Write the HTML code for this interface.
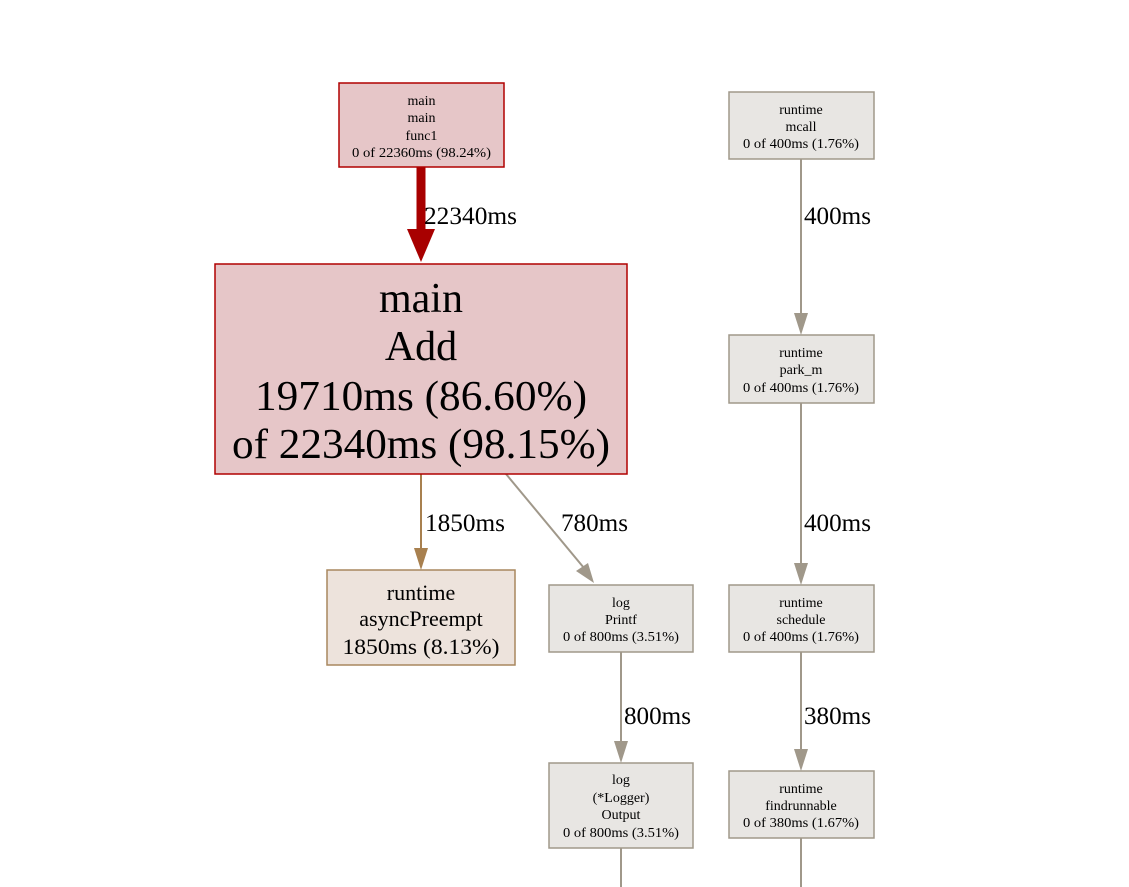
<!DOCTYPE html>
<html><head><meta charset="utf-8"><style>
html,body{margin:0;padding:0;background:#fff;}
svg{display:block;font-family:"Liberation Serif",serif;}
</style></head><body>
<svg width="1129" height="887" viewBox="0 0 1129 887" xmlns="http://www.w3.org/2000/svg">
<!-- edges -->
<line x1="421" y1="167" x2="421" y2="230" stroke="#a80000" stroke-width="9"/>
<polygon points="407,229 435,229 421,262" fill="#a80000"/>
<text x="424" y="224" font-size="25" textLength="93" lengthAdjust="spacingAndGlyphs">22340ms</text>

<line x1="421" y1="474" x2="421" y2="550" stroke="#a8804f" stroke-width="2"/>
<polygon points="414,548 428,548 421,570" fill="#a8804f"/>
<text x="425" y="531" font-size="25" textLength="80" lengthAdjust="spacingAndGlyphs">1850ms</text>

<line x1="506" y1="474" x2="584" y2="568" stroke="#a0988a" stroke-width="2"/>
<polygon points="576,571 588,563 594,583" fill="#a0988a"/>
<text x="561" y="531" font-size="25" textLength="67" lengthAdjust="spacingAndGlyphs">780ms</text>

<line x1="621" y1="652" x2="621" y2="743" stroke="#a0988a" stroke-width="2"/>
<polygon points="614,741 628,741 621,763" fill="#a0988a"/>
<text x="624" y="724" font-size="25" textLength="67" lengthAdjust="spacingAndGlyphs">800ms</text>
<line x1="621" y1="848" x2="621" y2="887" stroke="#a0988a" stroke-width="2"/>

<line x1="801" y1="159" x2="801" y2="315" stroke="#a0988a" stroke-width="2"/>
<polygon points="794,313 808,313 801,335" fill="#a0988a"/>
<text x="804" y="224" font-size="25" textLength="67" lengthAdjust="spacingAndGlyphs">400ms</text>

<line x1="801" y1="403" x2="801" y2="565" stroke="#a0988a" stroke-width="2"/>
<polygon points="794,563 808,563 801,585" fill="#a0988a"/>
<text x="804" y="531" font-size="25" textLength="67" lengthAdjust="spacingAndGlyphs">400ms</text>

<line x1="801" y1="652" x2="801" y2="751" stroke="#a0988a" stroke-width="2"/>
<polygon points="794,749 808,749 801,771" fill="#a0988a"/>
<text x="804" y="724" font-size="25" textLength="67" lengthAdjust="spacingAndGlyphs">380ms</text>
<line x1="801" y1="838" x2="801" y2="887" stroke="#a0988a" stroke-width="2"/>

<!-- nodes -->
<g text-anchor="middle">
<rect x="339" y="83" width="165" height="84" fill="#e6c6c8" stroke="#b00000" stroke-width="1.5"/>
<text x="421.5" y="105" font-size="14">main</text>
<text x="421.5" y="122" font-size="14">main</text>
<text x="421.5" y="140" font-size="14">func1</text>
<text x="421.5" y="157" font-size="14" textLength="139" lengthAdjust="spacingAndGlyphs">0 of 22360ms (98.24%)</text>

<rect x="215" y="264" width="412" height="210" fill="#e6c6c8" stroke="#b00000" stroke-width="1.5"/>
<text x="421" y="312" font-size="42">main</text>
<text x="421" y="360" font-size="42">Add</text>
<text x="421" y="410" font-size="42" textLength="332" lengthAdjust="spacingAndGlyphs">19710ms (86.60%)</text>
<text x="421" y="458" font-size="42" textLength="378" lengthAdjust="spacingAndGlyphs">of 22340ms (98.15%)</text>

<rect x="327" y="570" width="188" height="95" fill="#ede3dc" stroke="#a8875f" stroke-width="1.5"/>
<text x="421" y="600" font-size="22">runtime</text>
<text x="421" y="626" font-size="22">asyncPreempt</text>
<text x="421" y="654" font-size="22" textLength="157" lengthAdjust="spacingAndGlyphs">1850ms (8.13%)</text>

<rect x="549" y="585" width="144" height="67" fill="#e8e6e3" stroke="#a0988a" stroke-width="1.5"/>
<text x="621" y="607" font-size="14">log</text>
<text x="621" y="624" font-size="14">Printf</text>
<text x="621" y="641" font-size="14" textLength="116" lengthAdjust="spacingAndGlyphs">0 of 800ms (3.51%)</text>

<rect x="549" y="763" width="144" height="85" fill="#e8e6e3" stroke="#a0988a" stroke-width="1.5"/>
<text x="621" y="784" font-size="14">log</text>
<text x="621" y="802" font-size="14">(*Logger)</text>
<text x="621" y="819" font-size="14">Output</text>
<text x="621" y="837" font-size="14" textLength="116" lengthAdjust="spacingAndGlyphs">0 of 800ms (3.51%)</text>

<rect x="729" y="92" width="145" height="67" fill="#e8e6e3" stroke="#a0988a" stroke-width="1.5"/>
<text x="801" y="114" font-size="14">runtime</text>
<text x="801" y="131" font-size="14">mcall</text>
<text x="801" y="148" font-size="14" textLength="116" lengthAdjust="spacingAndGlyphs">0 of 400ms (1.76%)</text>

<rect x="729" y="335" width="145" height="68" fill="#e8e6e3" stroke="#a0988a" stroke-width="1.5"/>
<text x="801" y="357" font-size="14">runtime</text>
<text x="801" y="374" font-size="14">park_m</text>
<text x="801" y="392" font-size="14" textLength="116" lengthAdjust="spacingAndGlyphs">0 of 400ms (1.76%)</text>

<rect x="729" y="585" width="145" height="67" fill="#e8e6e3" stroke="#a0988a" stroke-width="1.5"/>
<text x="801" y="607" font-size="14">runtime</text>
<text x="801" y="624" font-size="14">schedule</text>
<text x="801" y="641" font-size="14" textLength="116" lengthAdjust="spacingAndGlyphs">0 of 400ms (1.76%)</text>

<rect x="729" y="771" width="145" height="67" fill="#e8e6e3" stroke="#a0988a" stroke-width="1.5"/>
<text x="801" y="793" font-size="14">runtime</text>
<text x="801" y="810" font-size="14">findrunnable</text>
<text x="801" y="827" font-size="14" textLength="116" lengthAdjust="spacingAndGlyphs">0 of 380ms (1.67%)</text>
</g>
</svg>
</body></html>
